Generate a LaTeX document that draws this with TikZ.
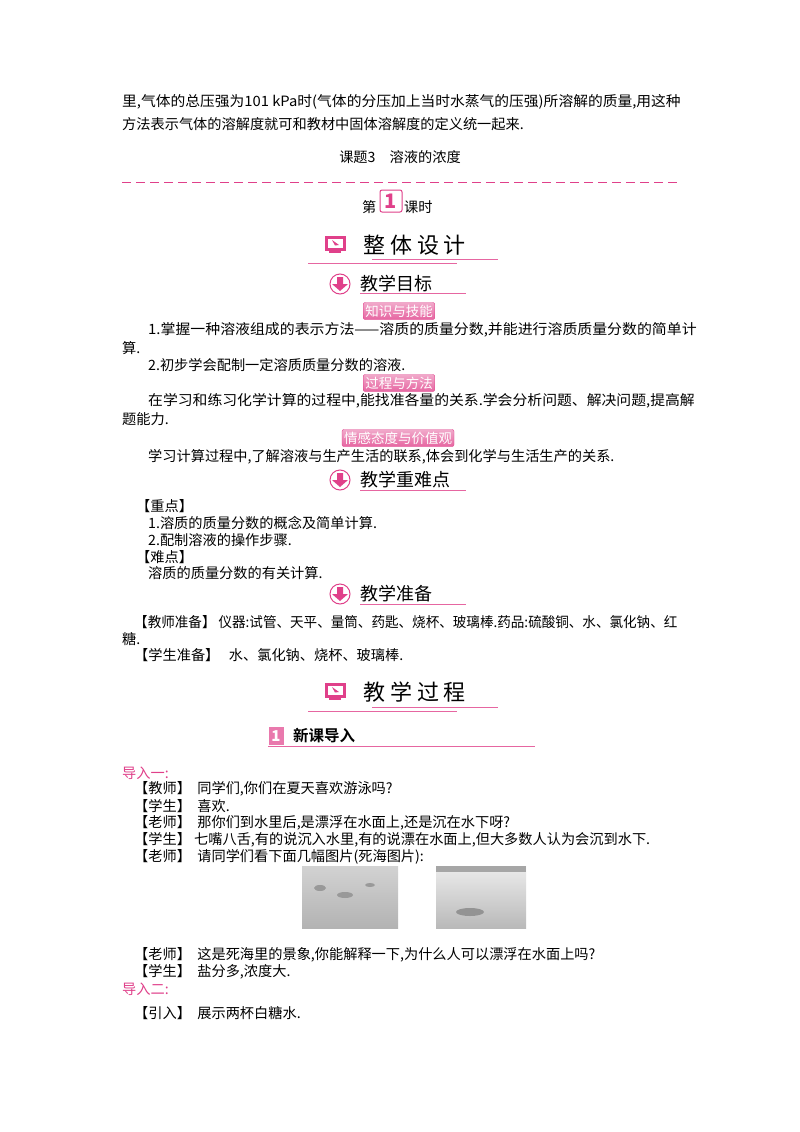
\documentclass[tikz,border=0pt]{standalone}
\usepackage{fontspec}
\setmainfont{Noto Sans CJK SC}
\newfontfamily\cjkb[BoldFont=*]{Noto Sans CJK SC Bold}
\definecolor{pk}{HTML}{E0408A}
\definecolor{pkl}{HTML}{F4B6D2}
\begin{document}
\begin{tikzpicture}[x=1pt,y=-1pt,
  t/.style={anchor=west,inner sep=0pt,font=\fontsize{14.2}{15}\selectfont},
  hd/.style={anchor=west,inner sep=0pt,font=\fontsize{22}{24}\selectfont},
  sh/.style={anchor=west,inner sep=0pt,font=\fontsize{18}{19}\selectfont},
  badge/.style={draw=pk,top color=pk!45,bottom color=pk!80,rounded corners=2pt,inner sep=2pt,text=white,font=\fontsize{13.5}{14}\selectfont,minimum height=17pt},
  ul/.style={draw=pk!80,line width=0.8pt}]
\useasboundingbox (0,0) rectangle (800,1132);
\fill[white] (0,0) rectangle (800,1132);
\node[t] (l1) at (122,102) {\scalebox{1.04}[1]{里,气体的总压强为101 kPa时(气体的分压加上当时水蒸气的压强)所溶解的质量,用这种}};
\node[t] (l2) at (122,124) {方法表示气体的溶解度就可和教材中固体溶解度的定义统一起来.};
\node[inner sep=0pt,font=\fontsize{14.2}{15}\selectfont] (title) at (400,157) {课题3\quad 溶液的浓度};
\draw[pk,line width=1pt,dash pattern=on 9pt off 5pt] (122,182) -- (678,182);
% lesson number
\node[t] (di) at (362,207) {第};
\node[draw=pk,fill=white,line width=1pt,rounded corners=2pt,minimum width=22pt,minimum height=22pt,inner sep=0pt,text=pk,font=\bfseries\fontsize{20}{20}\selectfont] (num) at (391,201) {1};
\node[t] (ks) at (404,207) {课时};
% 整体设计
\node[draw=pk,fill=pk,minimum width=20pt,minimum height=14pt,inner sep=0pt] (ic1) at (335,243) {};
\fill[white] (327.5,238.5) rectangle (342.5,247.5);
\fill[pk] (332,240) -- (339,245) -- (335,245.5) -- cycle;
\fill[pk] (329,251) rectangle (341,253);
\node[hd] (h1) at (363,245) {整\ 体\ 设\ 计};
\draw[ul] (372,259) -- (498,259);
\draw[ul] (308,263) -- (457,263);
\foreach \yy/\nm in {284/a,480/b,594/c}{
  \draw[pk,line width=1pt,fill=white] (340,\yy) circle (10pt);
  \fill[pk] (337,\yy-7) rectangle (343,\yy) (332,\yy) -- (348,\yy) -- (340,\yy+7) -- cycle;
}
\node[sh] (h2) at (360,284) {教学目标};
\draw[ul] (360,293) -- (466,293);
\node[badge] (b1) at (399,311) {知识与技能};
\node[t] (p1) at (148,330) {\scalebox{1.05}[1]{1.掌握一种溶液组成的表示方法——溶质的质量分数,并能进行溶质质量分数的简单计}};
\node[t] (p1b) at (122,348) {算.};
\node[t] (p2) at (148,365) {2.初步学会配制一定溶质质量分数的溶液.};
\node[badge] (b2) at (399,383) {过程与方法};
\node[t] (p3) at (148,401) {\scalebox{1.045}[1]{在学习和练习化学计算的过程中,能找准各量的关系.学会分析问题、解决问题,提高解}};
\node[t] (p3b) at (122,419) {题能力.};
\node[badge] (b3) at (398,438) {情感态度与价值观};
\node[t] (p4) at (148,457) {学习计算过程中,了解溶液与生产生活的联系,体会到化学与生活生产的关系.};
\node[sh] (h3) at (360,480) {教学重难点};
\draw[ul] (360,490) -- (466,490);
\node[t] (k1) at (136,506) {【重点】};
\node[t] (k2) at (148,523) {1.溶质的质量分数的概念及简单计算.};
\node[t] (k3) at (148,540) {2.配制溶液的操作步骤.};
\node[t] (k4) at (136,557) {【难点】};
\node[t] (k5) at (148,573) {溶质的质量分数的有关计算.};
\node[sh] (h4) at (360,594) {教学准备};
\draw[ul] (360,604) -- (466,604);
\node[t] (r1) at (134,622) {\scalebox{0.955}[1]{【教师准备】\ 仪器:试管、天平、量筒、药匙、烧杯、玻璃棒.药品:硫酸铜、水、氯化钠、红}};
\node[t] (r1b) at (122,639) {糖.};
\node[t] (r2) at (134,655) {【学生准备】\ \ \ 水、氯化钠、烧杯、玻璃棒.};
% 教学过程
\node[draw=pk,fill=pk,minimum width=20pt,minimum height=14pt,inner sep=0pt] (ic2) at (335,690) {};
\fill[white] (327.5,685.5) rectangle (342.5,694.5);
\fill[pk] (332,687) -- (339,692) -- (335,692.5) -- cycle;
\fill[pk] (329,698) rectangle (341,700);
\node[hd] (h5) at (363,692) {教\ 学\ 过\ 程};
\draw[ul] (372,707) -- (498,707);
\draw[ul] (308,711) -- (457,711);
\node[fill=pk!70,minimum width=15pt,minimum height=18pt,inner sep=0pt,text=white,font=\bfseries\itshape\fontsize{15}{15}\selectfont] (n1) at (276,736) {1};
\node[anchor=west,inner sep=0pt,font=\cjkb\fontsize{15.5}{16}\selectfont] (h6) at (293,736) {新课导入};
\draw[ul] (268,746) -- (535,746);
\node[t,text=pk] (d1) at (122,773) {导入一:};
\node[t] (s1) at (134,789) {【教师】\ \ 同学们,你们在夏天喜欢游泳吗?};
\node[t] (s2) at (134,806) {【学生】\ \ 喜欢.};
\node[t] (s3) at (134,823) {【老师】\ \ 那你们到水里后,是漂浮在水面上,还是沉在水下呀?};
\node[t] (s4) at (134,840) {【学生】\ 七嘴八舌,有的说沉入水里,有的说漂在水面上,但大多数人认为会沉到水下.};
\node[t] (s5) at (134,857) {【老师】\ \ 请同学们看下面几幅图片(死海图片):};
\shade[top color=gray!35,bottom color=gray!60] (302,866) rectangle (398,928);
\fill[gray!80] (320,888) ellipse (6 and 3) (345,895) ellipse (8 and 3) (370,885) ellipse (5 and 2);
\shade[top color=gray!15,bottom color=gray!55] (436,866) rectangle (526,928);
\fill[gray!70] (436,866) rectangle (526,872);
\fill[gray!85] (470,912) ellipse (14 and 4);
\node[t] (s6) at (134,955) {【老师】\ \ 这是死海里的景象,你能解释一下,为什么人可以漂浮在水面上吗?};
\node[t] (s7) at (134,972) {【学生】\ \ 盐分多,浓度大.};
\node[t,text=pk] (d2) at (122,989) {导入二:};
\node[t] (s8) at (134,1013) {【引入】\ \ 展示两杯白糖水.};
\end{tikzpicture}
\end{document}
